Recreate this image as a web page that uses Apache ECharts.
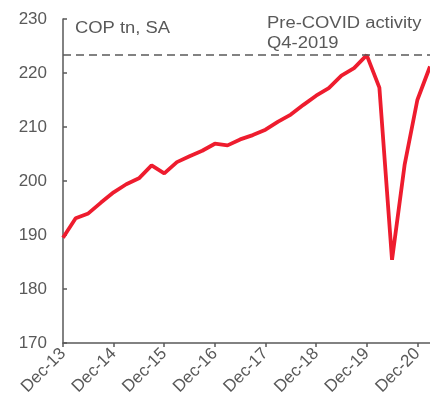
<!DOCTYPE html>
<html>
<head>
<meta charset="utf-8">
<script src="https://cdn.jsdelivr.net/npm/echarts@6/dist/echarts.min.js"></script>
<style>
  html, body { margin: 0; padding: 0; background: #fff; }
  #chart { width: 430px; height: 406px; }
</style>
</head>
<body>
<div id="chart"></div>
<script>
  // quarterly, Dec-13 .. Mar-21
  const quarters = [
    'Dec-13', 'Mar-14', 'Jun-14', 'Sep-14',
    'Dec-14', 'Mar-15', 'Jun-15', 'Sep-15',
    'Dec-15', 'Mar-16', 'Jun-16', 'Sep-16',
    'Dec-16', 'Mar-17', 'Jun-17', 'Sep-17',
    'Dec-17', 'Mar-18', 'Jun-18', 'Sep-18',
    'Dec-18', 'Mar-19', 'Jun-19', 'Sep-19',
    'Dec-19', 'Mar-20', 'Jun-20', 'Sep-20',
    'Dec-20', 'Mar-21'
  ];
  const gdpValues = [
    189.5, 193.1, 194.0, 196.0,
    197.9, 199.4, 200.5, 202.9,
    201.4, 203.5, 204.6, 205.6,
    206.9, 206.6, 207.7, 208.5,
    209.5, 211.0, 212.3, 214.1,
    215.8, 217.2, 219.5, 220.9,
    223.3, 217.3, 185.4, 203.1,
    215.0, 221.2
  ];
  const preCovidLevel = 223.3;
  const yTicks = { min: 170, max: 230, step: 10 };

  const grey = '#595959';
  const font = '"Liberation Sans", Arial, sans-serif';

  const chart = echarts.init(document.getElementById('chart'));

  chart.setOption({
    animation: false,
    grid: { left: 63, top: 19, width: 371, height: 324 },
    xAxis: {
      type: 'category',
      data: quarters,
      boundaryGap: false,
      axisLine: { lineStyle: { color: grey, width: 1.5 } },
      axisTick: { interval: 3, length: 4, lineStyle: { color: grey, width: 1.5 } },
      axisLabel: {
        interval: 3,
        rotate: 45,
        margin: 8,
        color: grey,
        fontSize: 17,
        fontFamily: font
      },
      splitLine: { show: false }
    },
    yAxis: {
      type: 'value',
      min: yTicks.min,
      max: yTicks.max,
      interval: yTicks.step,
      axisLine: { show: true, lineStyle: { color: grey, width: 1.5 } },
      axisTick: { show: true, inside: true, length: 4, lineStyle: { color: grey, width: 1.5 } },
      axisLabel: { color: grey, fontSize: 17, fontFamily: font, margin: 16 },
      splitLine: { show: false }
    },
    series: [
      {
        type: 'line',
        data: gdpValues,
        symbol: 'none',
        lineStyle: { color: '#EE1C2E', width: 3.8 },
        markLine: {
          silent: true,
          symbol: 'none',
          label: { show: false },
          lineStyle: { color: grey, type: [8, 5], width: 1.5 },
          data: [{ yAxis: preCovidLevel }]
        }
      }
    ],
    graphic: [
      {
        type: 'text',
        x: 75,
        y: 21,
        scaleX: 1.15,
        style: { text: 'COP tn, SA', fill: grey, font: '16px ' + font }
      },
      {
        type: 'text',
        x: 267,
        y: 14,
        scaleX: 1.15,
        style: {
          text: 'Pre-COVID activity\nQ4-2019',
          fill: grey,
          font: '16px ' + font,
          lineHeight: 20
        }
      }
    ]
  });
</script>
</body>
</html>
